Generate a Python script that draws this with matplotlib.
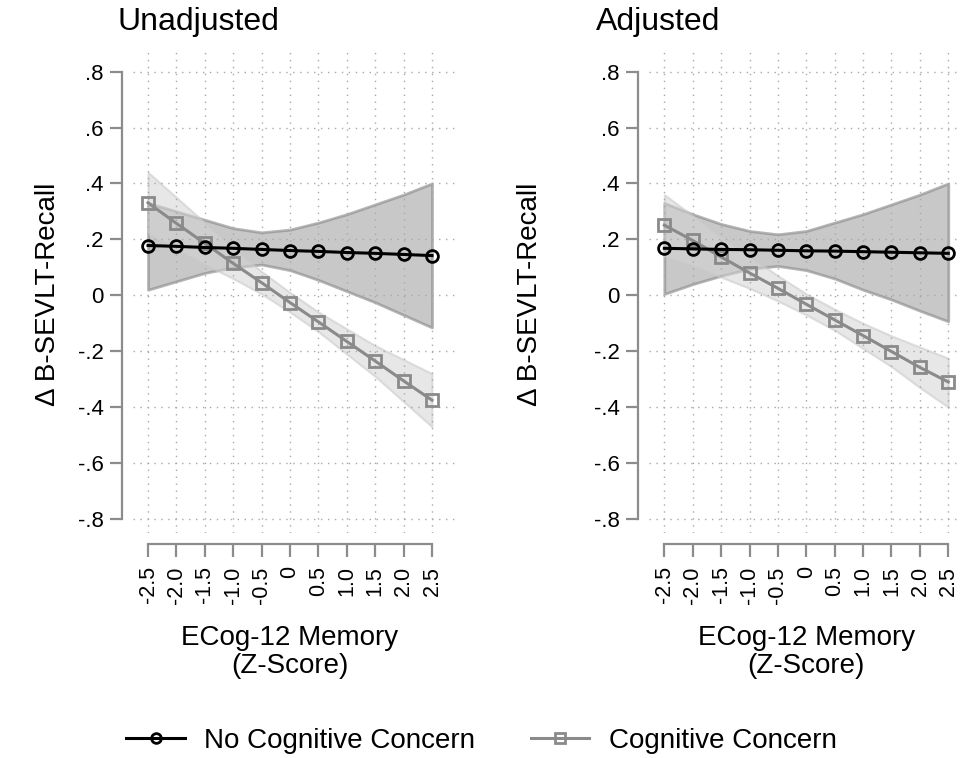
import numpy as np
import matplotlib.pyplot as plt
from matplotlib.lines import Line2D

plt.rcParams['font.family'] = ['Liberation Sans', 'DejaVu Sans']

z = [-2.5, -2.0, -1.5, -1.0, -0.5, 0.0, 0.5, 1.0, 1.5, 2.0, 2.5]
z_labels = ["-2.5", "-2.0", "-1.5", "-1.0", "-0.5", "0", "0.5", "1.0", "1.5", "2.0", "2.5"]
y_ticks = [0.8, 0.6, 0.4, 0.2, 0, -0.2, -0.4, -0.6, -0.8]
y_labels = [".8", ".6", ".4", ".2", "0", "-.2", "-.4", "-.6", "-.8"]

# unadjusted
un_nocc = [0.178, 0.175, 0.171, 0.168, 0.164, 0.160, 0.157, 0.153, 0.150, 0.146, 0.142]
un_nocc_hi = [0.33, 0.30, 0.27, 0.24, 0.225, 0.235, 0.26, 0.29, 0.325, 0.36, 0.40]
un_nocc_lo = [0.02, 0.05, 0.08, 0.10, 0.11, 0.09, 0.055, 0.015, -0.025, -0.07, -0.115]
un_cc = [0.331, 0.257, 0.186, 0.114, 0.045, -0.026, -0.095, -0.165, -0.235, -0.306, -0.375]
un_cc_hi = [0.44, 0.35, 0.26, 0.17, 0.085, 0.01, -0.06, -0.12, -0.18, -0.23, -0.28]
un_cc_lo = [0.22, 0.165, 0.11, 0.06, 0.005, -0.06, -0.13, -0.21, -0.29, -0.38, -0.47]

# adjusted
ad_nocc = [0.168, 0.166, 0.164, 0.163, 0.161, 0.159, 0.158, 0.156, 0.154, 0.152, 0.150]
ad_nocc_hi = [0.33, 0.29, 0.255, 0.23, 0.218, 0.23, 0.26, 0.29, 0.325, 0.36, 0.40]
ad_nocc_lo = [0.005, 0.04, 0.07, 0.095, 0.105, 0.09, 0.06, 0.02, -0.015, -0.055, -0.093]
ad_cc = [0.251, 0.196, 0.137, 0.080, 0.025, -0.032, -0.088, -0.144, -0.201, -0.258, -0.31]
ad_cc_hi = [0.36, 0.285, 0.21, 0.14, 0.07, 0.005, -0.05, -0.10, -0.145, -0.185, -0.225]
ad_cc_lo = [0.14, 0.105, 0.065, 0.025, -0.02, -0.07, -0.125, -0.19, -0.255, -0.33, -0.40]

panels = [
    ("Unadjusted", un_nocc, un_nocc_lo, un_nocc_hi, un_cc, un_cc_lo, un_cc_hi),
    ("Adjusted", ad_nocc, ad_nocc_lo, ad_nocc_hi, ad_cc, ad_cc_lo, ad_cc_hi),
]

W, H = 961, 758
fig = plt.figure(figsize=(9.61, 7.58), dpi=100)

ax_lefts = [132.7, 649]
title_x = [118, 596]
ylab_x = [48, 530]
spine_c = "#8c8c8c"
gray = "#8a8a8a"

for i, (title, nc, nc_lo, nc_hi, cc, cc_lo, cc_hi) in enumerate(panels):
    ax = fig.add_axes([ax_lefts[i] / W, (H - 533) / H, 322 / W, 481 / H])
    ax.set_xlim(-2.77, 2.9)
    ax.set_ylim(-0.85, 0.87)

    ax.fill_between(z, nc_lo, nc_hi, facecolor="#a8a8a8", alpha=0.63,
                    edgecolor=gray, linewidth=2, zorder=1)
    ax.fill_between(z, cc_lo, cc_hi, facecolor="#d4d4d4", alpha=0.55,
                    edgecolor="#c8c8c8", linewidth=1.5, zorder=1.2)
    ax.plot(z, cc, color=gray, lw=2.2, marker="s", ms=9, mfc="none",
            mec=gray, mew=2, zorder=4)
    ax.plot(z, nc, color="black", lw=2.2, marker="o", ms=8.5, mfc="none",
            mec="black", mew=2, zorder=5)

    ax.tick_params(colors=spine_c, labelcolor="black", width=1.6, length=9)
    ax.tick_params(axis="x", labelsize=15.5, labelrotation=90, pad=7)
    ax.tick_params(axis="y", labelsize=16, pad=4)
    ax.set_xticks(z)
    ax.set_xticklabels(z_labels)
    ax.set_yticks(y_ticks)
    ax.set_yticklabels(y_labels)
    ax.set_axisbelow(False)
    ax.grid(True, color="#a8a8a8", linestyle=(0, (1, 4)), linewidth=1)

    for s in ["top", "right"]:
        ax.spines[s].set_visible(False)
    ax.spines["left"].set_position(("outward", 8))
    ax.spines["bottom"].set_position(("outward", 8))
    ax.spines["left"].set_bounds(-0.8, 0.8)
    ax.spines["bottom"].set_bounds(-2.5, 2.5)
    for s in ["left", "bottom"]:
        ax.spines[s].set_color(spine_c)
        ax.spines[s].set_linewidth(1.6)

    fig.text(title_x[i] / W, 1 - 22 / H, title, fontsize=23, ha="left", va="center")
    fig.text(ylab_x[i] / W, 1 - 294 / H, "\u0394 B-SEVLT-Recall", fontsize=20,
             rotation=90, ha="center", va="center")
    cx = (ax_lefts[i] + 0.27 * 56.8 + 2.5 * 56.8) / W
    fig.text(cx, 1 - 652 / H, "ECog-12 Memory\n(Z-Score)", fontsize=20,
             ha="center", va="center", linespacing=1.12)

handles = [
    Line2D([], [], color="black", lw=2.2, marker="o", ms=7, mfc="none", mew=2),
    Line2D([], [], color=gray, lw=2.2, marker="s", ms=7.5, mfc="none", mew=2),
]
fig.legend(handles, ["No Cognitive Concern", "Cognitive Concern"], loc="center",
           bbox_to_anchor=(0.501, 1 - 741 / H), ncol=2, frameon=False, fontsize=20,
           handlelength=2.1, handletextpad=0.7, columnspacing=2.0)

fig.savefig("out.png", dpi=100)
